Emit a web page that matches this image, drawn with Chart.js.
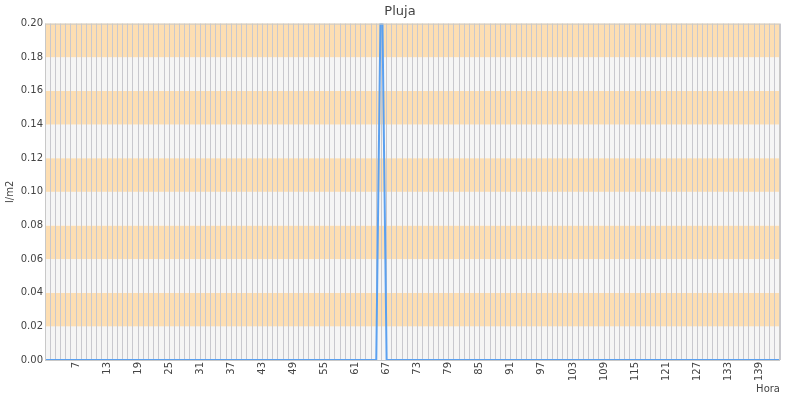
<!DOCTYPE html>
<html>
<head>
<meta charset="utf-8">
<script src="https://cdn.jsdelivr.net/npm/chart.js@4/dist/chart.umd.min.js"></script>
<style>
  body { margin: 0; background: #fff; }
  #wrap { width: 800px; height: 400px; }
</style>
</head>
<body>
<div id="wrap"><canvas id="grafPluja"></canvas></div>
<script>
// hores 1..143
const hores = Array.from({ length: 143 }, (_, i) => i + 1);

// pluja per hora (l/m2)
const pluja = [
  0, 0, 0, 0, 0, 0, 0, 0, 0, 0, 0, 0, 0, 0, 0, 0, 0, 0, 0, 0,
  0, 0, 0, 0, 0, 0, 0, 0, 0, 0, 0, 0, 0, 0, 0, 0, 0, 0, 0, 0,
  0, 0, 0, 0, 0, 0, 0, 0, 0, 0, 0, 0, 0, 0, 0, 0, 0, 0, 0, 0,
  0, 0, 0, 0, 0, 0.25, 0, 0, 0, 0, 0, 0, 0, 0, 0, 0, 0, 0, 0, 0,
  0, 0, 0, 0, 0, 0, 0, 0, 0, 0, 0, 0, 0, 0, 0, 0, 0, 0, 0, 0,
  0, 0, 0, 0, 0, 0, 0, 0, 0, 0, 0, 0, 0, 0, 0, 0, 0, 0, 0, 0,
  0, 0, 0, 0, 0, 0, 0, 0, 0, 0, 0, 0, 0, 0, 0, 0, 0, 0, 0, 0,
  0, 0, 0
];

// etiquetes visibles a l'eix X
const horesVisibles = [7, 13, 19, 25, 31, 37, 43, 49, 55, 61, 67, 73, 79, 85, 91, 97, 103, 109, 115, 121, 127, 133, 139];

const FONT = 'DejaVu Sans';
const TEXT = '#444';

// franges alternes de fons cada 0.02, per sota de la graella
const fons = {
  id: 'fons',
  beforeDraw(chart) {
    const { ctx, chartArea: a, scales: { y } } = chart;
    ctx.save();
    for (let k = 0; k < 10; k++) {
      const y0 = y.getPixelForValue(k * 0.02);
      const y1 = y.getPixelForValue((k + 1) * 0.02);
      ctx.fillStyle = k % 2 === 0 ? '#f5f5f5' : 'rgb(253,222,178)';
      ctx.fillRect(a.left, y1, a.right - a.left, y0 - y1);
    }
    ctx.restore();
  }
};

// marc gris al voltant de l'àrea
const marc = {
  id: 'marc',
  afterDraw(chart) {
    const { ctx, chartArea: a } = chart;
    ctx.save();
    ctx.strokeStyle = '#c8c8c8';
    ctx.lineWidth = 1;
    ctx.strokeRect(a.left + 0.5, a.top + 0.5, a.right - a.left - 1, a.bottom - a.top);
    ctx.restore();
  }
};

const ctx = document.getElementById('grafPluja').getContext('2d');
const grafic = new Chart(ctx, {
  type: 'line',
  data: {
    labels: hores,
    datasets: [{
      label: 'Pluja',
      data: pluja,
      borderColor: 'rgb(90,160,240)',
      borderWidth: 2,
      pointRadius: 0,
      tension: 0,
      fill: false
    }]
  },
  options: {
    responsive: true,
    maintainAspectRatio: false,
    animation: false,
    layout: { padding: 0 },
    plugins: {
      legend: { display: false },
      tooltip: { enabled: false },
      title: {
        display: true,
        text: 'Pluja',
        color: TEXT,
        font: { family: FONT, size: 13, weight: 'normal' },
        padding: { top: 4, bottom: 4 }
      }
    },
    scales: {
      x: {
        type: 'category',
        offset: false,
        grid: { color: 'rgb(200,200,206)', drawTicks: false },
        border: { display: false },
        ticks: {
          autoSkip: false,
          minRotation: 90,
          maxRotation: 90,
          padding: 2,
          color: TEXT,
          font: { family: FONT, size: 10 },
          callback: function (val) {
            const h = this.getLabelForValue(val);
            return horesVisibles.includes(Number(h)) ? String(h) : '';
          }
        },
        title: {
          display: true,
          text: 'Hora',
          align: 'end',
          color: TEXT,
          font: { family: FONT, size: 10 },
          padding: { top: 0, bottom: 5 }
        },
        afterFit(scale) { scale.height = 40; }
      },
      y: {
        min: 0,
        max: 0.2,
        grid: { display: false, drawTicks: false },
        border: { display: false },
        ticks: {
          stepSize: 0.02,
          padding: 2,
          color: TEXT,
          font: { family: FONT, size: 10 },
          callback: v => v.toFixed(2)
        },
        title: {
          display: true,
          text: 'l/m2',
          color: TEXT,
          font: { family: FONT, size: 10 },
          padding: { top: 4, bottom: 0 }
        },
        afterFit(scale) { scale.width = 45; }
      },
      // marge buit a la dreta perquè el títol quedi centrat a tota l'amplada
      margeDreta: {
        type: 'linear',
        position: 'right',
        grid: { display: false, drawTicks: false },
        border: { display: false },
        ticks: { display: false },
        afterFit(scale) { scale.width = 20; }
      }
    }
  },
  plugins: [fons, marc]
});
</script>
</body>
</html>
